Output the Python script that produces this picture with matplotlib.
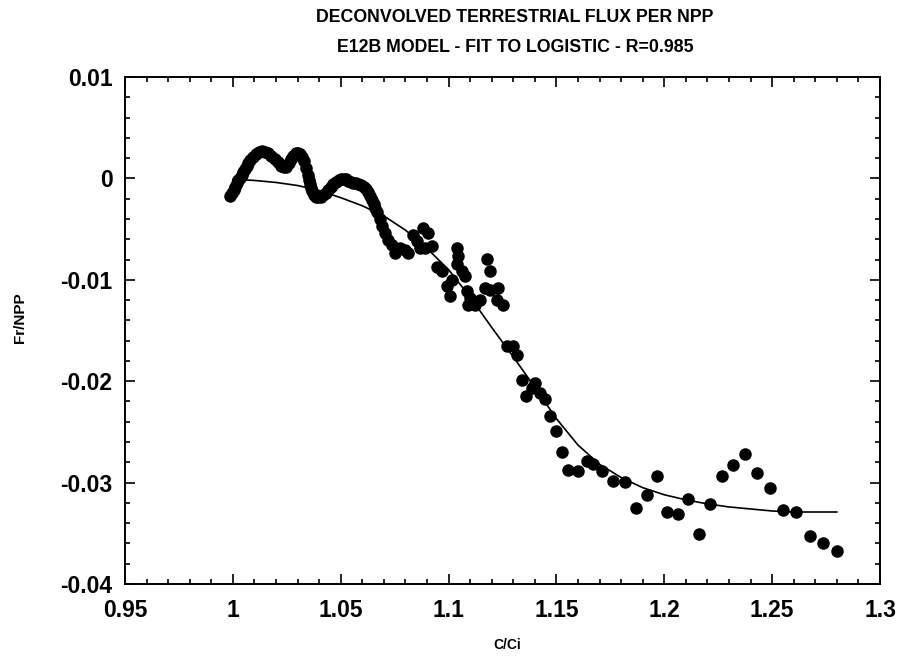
import matplotlib
matplotlib.use("Agg")
import matplotlib.pyplot as plt
from matplotlib.ticker import MultipleLocator

plt.rcParams['font.family'] = ['Liberation Sans', 'DejaVu Sans']
plt.rcParams['axes.unicode_minus'] = False

# ---- data: dense early trace (C/Ci, Fr/NPP) ----
dense_x = [0.9987, 0.9995, 1.0003, 1.0011, 1.0019, 1.0026, 1.0033, 1.0041, 1.0049, 1.0057,
           1.0064, 1.0072, 1.0079, 1.0093, 1.0107, 1.0121, 1.0135, 1.0149, 1.0163, 1.0179,
           1.0195, 1.0209, 1.0223, 1.0235, 1.0246, 1.0258, 1.0269, 1.0281, 1.0292, 1.0301,
           1.0311, 1.0320, 1.0329, 1.0338, 1.0348, 1.0353, 1.0358, 1.0363, 1.0367, 1.0376,
           1.0385, 1.0397, 1.0408, 1.0420, 1.0431, 1.0443, 1.0455, 1.0466, 1.0478, 1.0490,
           1.0501, 1.0513, 1.0524, 1.0536, 1.0547, 1.0559, 1.0570, 1.0582, 1.0594, 1.0606,
           1.0617, 1.0626, 1.0635, 1.0645, 1.0654, 1.0661, 1.0668]
dense_y = [-0.0017, -0.0014, -0.0011, -0.0008, -0.0005, -0.0002, 0.0000, 0.0003, 0.0006, 0.0009,
           0.0012, 0.0015, 0.0018, 0.0021, 0.0024, 0.0026, 0.0027, 0.0026, 0.0025, 0.0022,
           0.0019, 0.0016, 0.0012, 0.0011, 0.0011, 0.0015, 0.0019, 0.0022, 0.0025, 0.0025,
           0.0024, 0.0021, 0.0017, 0.0010, 0.0003, -0.0002, -0.0006, -0.0009, -0.0012, -0.0016,
           -0.0018, -0.0018, -0.0018, -0.0016, -0.0014, -0.0011, -0.0008, -0.0006, -0.0004, -0.0002,
           -0.0001, -0.0001, -0.0001, -0.0003, -0.0004, -0.0005, -0.0005, -0.0006, -0.0007, -0.0008,
           -0.0010, -0.0013, -0.0017, -0.0021, -0.0025, -0.0029, -0.0033]

# ---- data: scattered later points ----
scatter_x = [1.0682, 1.0691, 1.0705, 1.0719, 1.0737, 1.0751, 1.0774, 1.0797, 1.0811, 1.0835,
             1.0853, 1.0881, 1.0904, 1.0867, 1.0890, 1.0923, 1.1039, 1.1043, 1.1178, 1.1191,
             1.0946, 1.0969, 1.1039, 1.1062, 1.1076, 1.1015, 1.0992, 1.1006, 1.1085, 1.1099,
             1.1089, 1.1122, 1.1145, 1.1168, 1.1191, 1.1228, 1.1224, 1.1252, 1.1270, 1.1298,
             1.1317, 1.1340, 1.1400, 1.1386, 1.1358, 1.1423, 1.1446, 1.1469, 1.1497, 1.1525,
             1.1553, 1.1599, 1.1641, 1.1669, 1.1710, 1.1761, 1.1817, 1.1868, 1.1919, 1.1965,
             1.2012, 1.2063, 1.2109, 1.2160, 1.2211, 1.2267, 1.2317, 1.2373, 1.2429, 1.2489,
             1.2549, 1.2609, 1.2674, 1.2735, 1.2799]
scatter_y = [-0.0040, -0.0047, -0.0054, -0.0061, -0.0066, -0.0074, -0.0069, -0.0071, -0.0074, -0.0056,
             -0.0062, -0.0049, -0.0054, -0.0069, -0.0069, -0.0067, -0.0069, -0.0077, -0.0079, -0.0091,
             -0.0087, -0.0091, -0.0084, -0.0091, -0.0096, -0.0100, -0.0106, -0.0116, -0.0111, -0.0118,
             -0.0125, -0.0125, -0.0120, -0.0108, -0.0110, -0.0108, -0.0120, -0.0125, -0.0165, -0.0165,
             -0.0174, -0.0199, -0.0202, -0.0207, -0.0215, -0.0212, -0.0218, -0.0234, -0.0249, -0.0270,
             -0.0288, -0.0289, -0.0279, -0.0282, -0.0289, -0.0298, -0.0299, -0.0325, -0.0312, -0.0293,
             -0.0329, -0.0331, -0.0316, -0.0351, -0.0321, -0.0293, -0.0283, -0.0272, -0.0291, -0.0305,
             -0.0327, -0.0329, -0.0353, -0.0360, -0.0367]

# ---- data: logistic fit curve ----
fit_x = [1.00, 1.01, 1.02, 1.03, 1.04, 1.05, 1.06, 1.07, 1.08, 1.09, 1.10, 1.11, 1.12, 1.13,
         1.14, 1.15, 1.16, 1.17, 1.18, 1.19, 1.20, 1.21, 1.22, 1.23, 1.24, 1.25, 1.26, 1.27, 1.28]
fit_y = [-0.0001, -0.0002, -0.0004, -0.0007, -0.0012, -0.0019, -0.0027, -0.0037, -0.0051, -0.0069,
         -0.0090, -0.0117, -0.0147, -0.0176, -0.0206, -0.0237, -0.0263, -0.0282, -0.0295, -0.0305,
         -0.0312, -0.0317, -0.0321, -0.0324, -0.0326, -0.0328, -0.0329, -0.0329, -0.0329]

xticks = [0.95, 1.0, 1.05, 1.1, 1.15, 1.2, 1.25, 1.3]
xtick_labels = ["0.95", "1", "1.05", "1.1", "1.15", "1.2", "1.25", "1.3"]
yticks = [0.01, 0.0, -0.01, -0.02, -0.03, -0.04]
ytick_labels = ["0.01", "0", "-0.01", "-0.02", "-0.03", "-0.04"]

title1 = "DECONVOLVED TERRESTRIAL FLUX PER NPP"
title2 = "E12B MODEL - FIT TO LOGISTIC - R=0.985"

fig = plt.figure(figsize=(9.06, 6.58), dpi=100)
ax = fig.add_axes([125/906, 1 - 584/658, (880-125)/906, (584-77)/658])

ax.plot(fit_x, fit_y, color='black', lw=1.2, zorder=2)
ax.plot(dense_x, dense_y, 'o', color='black', ms=8, mec='black', zorder=3)
ax.plot(scatter_x, scatter_y, 'o', color='black', ms=8, mec='black', zorder=3)

ax.set_xlim(0.95, 1.3)
ax.set_ylim(-0.04, 0.01)
ax.set_xticks(xticks)
ax.set_xticklabels(xtick_labels)
ax.set_yticks(yticks)
ax.set_yticklabels(ytick_labels)
ax.xaxis.set_minor_locator(MultipleLocator(0.01))
ax.yaxis.set_minor_locator(MultipleLocator(0.002))
ax.tick_params(which='both', direction='in', top=True, right=True, width=1.2)
ax.tick_params(which='major', length=7, labelsize=16.5)
ax.tick_params(axis='x', which='major', pad=11)
ax.tick_params(axis='y', which='major', pad=9)
ax.tick_params(which='minor', length=3.5)
for lab in ax.get_xticklabels() + ax.get_yticklabels():
    lab.set_fontweight('bold')
for s in ax.spines.values():
    s.set_linewidth(1.4)

fig.text(515/906, 1 - 18/658, title1, ha='center', va='center', fontsize=12.8, fontweight='bold')
fig.text(515/906, 1 - 47/658, title2, ha='center', va='center', fontsize=12.8, fontweight='bold')
fig.text(507/906, 1 - 645/658, "C/Ci", ha='center', va='center', fontsize=10, fontweight='bold')
fig.text(20/906, 1 - 318/658, "Fr/NPP", ha='center', va='center', fontsize=11,
         fontweight='bold', rotation=90)

fig.savefig("out.png", dpi=100)
